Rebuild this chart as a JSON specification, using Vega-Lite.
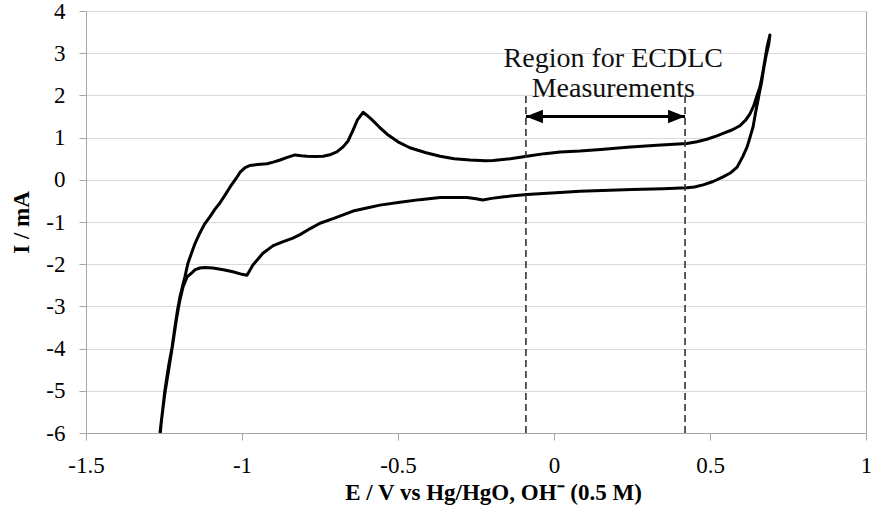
{
  "$schema": "https://vega.github.io/schema/vega-lite/v6.json",
  "autosize": {"type": "none"},
  "padding": {"left": 86, "top": 11, "right": 5, "bottom": 80},
  "width": 780,
  "height": 422,
  "background": "white",
  "datasets": {
    "cv": [
      {"o": 1, "E": -1.263, "I": -6.0}, {"o": 2, "E": -1.255, "I": -5.5}, {"o": 3, "E": -1.247, "I": -4.98}, {"o": 4, "E": -1.235, "I": -4.4},
      {"o": 5, "E": -1.224, "I": -3.96}, {"o": 6, "E": -1.215, "I": -3.49}, {"o": 7, "E": -1.207, "I": -3.1}, {"o": 8, "E": -1.199, "I": -2.78},
      {"o": 9, "E": -1.19, "I": -2.5}, {"o": 10, "E": -1.183, "I": -2.3}, {"o": 11, "E": -1.173, "I": -1.97}, {"o": 12, "E": -1.16, "I": -1.7},
      {"o": 13, "E": -1.15, "I": -1.5}, {"o": 14, "E": -1.135, "I": -1.26}, {"o": 15, "E": -1.12, "I": -1.05}, {"o": 16, "E": -1.103, "I": -0.88},
      {"o": 17, "E": -1.087, "I": -0.7}, {"o": 18, "E": -1.071, "I": -0.55}, {"o": 19, "E": -1.055, "I": -0.37}, {"o": 20, "E": -1.038, "I": -0.17},
      {"o": 21, "E": -1.02, "I": 0.02}, {"o": 22, "E": -1.006, "I": 0.18}, {"o": 23, "E": -0.99, "I": 0.29}, {"o": 24, "E": -0.974, "I": 0.34},
      {"o": 25, "E": -0.95, "I": 0.36}, {"o": 26, "E": -0.92, "I": 0.38}, {"o": 27, "E": -0.9, "I": 0.42}, {"o": 28, "E": -0.878, "I": 0.47},
      {"o": 29, "E": -0.855, "I": 0.53}, {"o": 30, "E": -0.83, "I": 0.59}, {"o": 31, "E": -0.81, "I": 0.57}, {"o": 32, "E": -0.792, "I": 0.56},
      {"o": 33, "E": -0.765, "I": 0.55}, {"o": 34, "E": -0.74, "I": 0.56}, {"o": 35, "E": -0.715, "I": 0.6}, {"o": 36, "E": -0.696, "I": 0.66},
      {"o": 37, "E": -0.676, "I": 0.78}, {"o": 38, "E": -0.66, "I": 0.92}, {"o": 39, "E": -0.644, "I": 1.18}, {"o": 40, "E": -0.63, "I": 1.42},
      {"o": 41, "E": -0.612, "I": 1.6}, {"o": 42, "E": -0.6, "I": 1.53}, {"o": 43, "E": -0.583, "I": 1.42}, {"o": 44, "E": -0.56, "I": 1.25},
      {"o": 45, "E": -0.535, "I": 1.08}, {"o": 46, "E": -0.5, "I": 0.9}, {"o": 47, "E": -0.462, "I": 0.76}, {"o": 48, "E": -0.41, "I": 0.64},
      {"o": 49, "E": -0.365, "I": 0.56}, {"o": 50, "E": -0.32, "I": 0.5}, {"o": 51, "E": -0.269, "I": 0.47}, {"o": 52, "E": -0.22, "I": 0.45},
      {"o": 53, "E": -0.195, "I": 0.46}, {"o": 54, "E": -0.14, "I": 0.5}, {"o": 55, "E": -0.087, "I": 0.56}, {"o": 56, "E": -0.03, "I": 0.62},
      {"o": 57, "E": 0.02, "I": 0.66}, {"o": 58, "E": 0.083, "I": 0.68}, {"o": 59, "E": 0.15, "I": 0.72}, {"o": 60, "E": 0.234, "I": 0.77},
      {"o": 61, "E": 0.33, "I": 0.82}, {"o": 62, "E": 0.426, "I": 0.86}, {"o": 63, "E": 0.458, "I": 0.9}, {"o": 64, "E": 0.49, "I": 0.96},
      {"o": 65, "E": 0.522, "I": 1.04}, {"o": 66, "E": 0.542, "I": 1.1}, {"o": 67, "E": 0.57, "I": 1.18}, {"o": 68, "E": 0.596, "I": 1.28},
      {"o": 69, "E": 0.615, "I": 1.42}, {"o": 70, "E": 0.628, "I": 1.56}, {"o": 71, "E": 0.64, "I": 1.75}, {"o": 72, "E": 0.65, "I": 1.98},
      {"o": 73, "E": 0.66, "I": 2.2}, {"o": 74, "E": 0.667, "I": 2.45}, {"o": 75, "E": 0.675, "I": 2.8}, {"o": 76, "E": 0.683, "I": 3.15},
      {"o": 77, "E": 0.692, "I": 3.43},
      {"o": 78, "E": 0.688, "I": 3.2}, {"o": 79, "E": 0.68, "I": 2.95}, {"o": 80, "E": 0.673, "I": 2.67}, {"o": 81, "E": 0.665, "I": 2.3},
      {"o": 82, "E": 0.658, "I": 2.05}, {"o": 83, "E": 0.654, "I": 1.89}, {"o": 84, "E": 0.645, "I": 1.55}, {"o": 85, "E": 0.638, "I": 1.25},
      {"o": 86, "E": 0.628, "I": 1.0}, {"o": 87, "E": 0.619, "I": 0.78}, {"o": 88, "E": 0.605, "I": 0.55}, {"o": 89, "E": 0.587, "I": 0.3},
      {"o": 90, "E": 0.565, "I": 0.16}, {"o": 91, "E": 0.542, "I": 0.07}, {"o": 92, "E": 0.51, "I": -0.04}, {"o": 93, "E": 0.478, "I": -0.12},
      {"o": 94, "E": 0.45, "I": -0.17}, {"o": 95, "E": 0.426, "I": -0.19}, {"o": 96, "E": 0.35, "I": -0.21}, {"o": 97, "E": 0.25, "I": -0.23},
      {"o": 98, "E": 0.179, "I": -0.25}, {"o": 99, "E": 0.083, "I": -0.27}, {"o": 100, "E": 0.019, "I": -0.3}, {"o": 101, "E": -0.087, "I": -0.35},
      {"o": 102, "E": -0.16, "I": -0.4}, {"o": 103, "E": -0.2, "I": -0.44}, {"o": 104, "E": -0.228, "I": -0.48}, {"o": 105, "E": -0.25, "I": -0.45},
      {"o": 106, "E": -0.279, "I": -0.42}, {"o": 107, "E": -0.365, "I": -0.42}, {"o": 108, "E": -0.43, "I": -0.47}, {"o": 109, "E": -0.494, "I": -0.53},
      {"o": 110, "E": -0.558, "I": -0.6}, {"o": 111, "E": -0.6, "I": -0.67}, {"o": 112, "E": -0.644, "I": -0.74}, {"o": 113, "E": -0.708, "I": -0.92},
      {"o": 114, "E": -0.75, "I": -1.03}, {"o": 115, "E": -0.78, "I": -1.15}, {"o": 116, "E": -0.814, "I": -1.3}, {"o": 117, "E": -0.837, "I": -1.38},
      {"o": 118, "E": -0.87, "I": -1.47}, {"o": 119, "E": -0.9, "I": -1.56}, {"o": 120, "E": -0.933, "I": -1.74}, {"o": 121, "E": -0.965, "I": -2.02},
      {"o": 122, "E": -0.984, "I": -2.26}, {"o": 123, "E": -1.0, "I": -2.24}, {"o": 124, "E": -1.029, "I": -2.18}, {"o": 125, "E": -1.06, "I": -2.13},
      {"o": 126, "E": -1.093, "I": -2.09}, {"o": 127, "E": -1.12, "I": -2.08}, {"o": 128, "E": -1.135, "I": -2.09}, {"o": 129, "E": -1.15, "I": -2.13},
      {"o": 130, "E": -1.16, "I": -2.2}, {"o": 131, "E": -1.176, "I": -2.3}, {"o": 132, "E": -1.189, "I": -2.54}, {"o": 133, "E": -1.199, "I": -2.85},
      {"o": 134, "E": -1.21, "I": -3.3}, {"o": 135, "E": -1.222, "I": -3.9}, {"o": 136, "E": -1.235, "I": -4.5}, {"o": 137, "E": -1.248, "I": -5.1},
      {"o": 138, "E": -1.258, "I": -5.7}, {"o": 139, "E": -1.262, "I": -6.0}
    ],
    "bounds": [
      {"E": -0.09, "I": -6, "I2": 2},
      {"E": 0.42, "I": -6, "I2": 2}
    ],
    "arrow": [
      {"E": -0.09, "E2": 0.42, "I": 1.5}
    ],
    "heads": [
      {"E": -0.09, "I": 1.5, "dir": "left"},
      {"E": 0.42, "I": 1.5, "dir": "right"}
    ],
    "notes": [
      {"E": 0.19, "I": 2.67, "label": "Region for ECDLC"},
      {"E": 0.19, "I": 1.96, "label": "Measurements"}
    ]
  },
  "encoding": {
    "x": {
      "field": "E", "type": "quantitative",
      "scale": {"domain": [-1.5, 1], "nice": false, "zero": false},
      "axis": {
        "title": "E / V vs Hg/HgO, OH⁻ (0.5 M)",
        "values": [-1.5, -1, -0.5, 0, 0.5, 1],
        "labelExpr": "toString(datum.value)",
        "labelFlush": false,
        "labelFont": "Liberation Serif",
        "grid": false,
        "tickSize": 7,
        "labelPadding": 14,
        "titlePadding": 4,
        "titleX": 407
      }
    },
    "y": {
      "field": "I", "type": "quantitative",
      "scale": {"domain": [-6, 4], "nice": false, "zero": false},
      "axis": {
        "title": "I / mA",
        "values": [-6, -5, -4, -3, -2, -1, 0, 1, 2, 3, 4],
        "labelExpr": "toString(datum.value)",
        "labelFlush": false,
        "labelFont": "Liberation Serif",
        "grid": true,
        "gridColor": "#d9d9d9",
        "tickSize": 7,
        "labelPadding": 14,
        "titlePadding": 12
      }
    }
  },
  "layer": [
    {
      "data": {"name": "cv"},
      "mark": {"type": "line", "color": "#000000", "strokeWidth": 3, "strokeJoin": "round"},
      "encoding": {"order": {"field": "o", "type": "quantitative"}}
    },
    {
      "data": {"name": "bounds"},
      "mark": {"type": "rule", "color": "#333333", "strokeWidth": 1.6, "strokeDash": [7, 4]},
      "encoding": {"y2": {"field": "I2"}}
    },
    {
      "data": {"name": "arrow"},
      "mark": {"type": "rule", "color": "#000000", "strokeWidth": 3},
      "encoding": {"x2": {"field": "E2"}}
    },
    {
      "data": {"name": "heads"},
      "mark": {"type": "point", "filled": true, "color": "#000000", "opacity": 1, "size": 289},
      "encoding": {
        "shape": {
          "field": "dir", "type": "nominal", "legend": null,
          "scale": {"domain": ["left", "right"], "range": ["M0,0L2,-0.8L2,0.8Z", "M0,0L-2,-0.8L-2,0.8Z"]}
        }
      }
    },
    {
      "data": {"name": "notes"},
      "mark": {"type": "text", "font": "Liberation Serif", "fontSize": 28, "align": "center", "baseline": "alphabetic", "color": "#111111"},
      "encoding": {"text": {"field": "label"}}
    }
  ],
  "config": {
    "view": {"stroke": "#a6a6a6", "strokeWidth": 1},
    "axis": {
      "domainColor": "#a6a6a6",
      "tickColor": "#a6a6a6",
      "labelFont": "Liberation Serif",
      "labelFontSize": 23,
      "labelColor": "#000000",
      "titleFont": "Liberation Serif",
      "titleFontSize": 23,
      "titleFontWeight": "bold",
      "titleColor": "#000000"
    }
  }
}
